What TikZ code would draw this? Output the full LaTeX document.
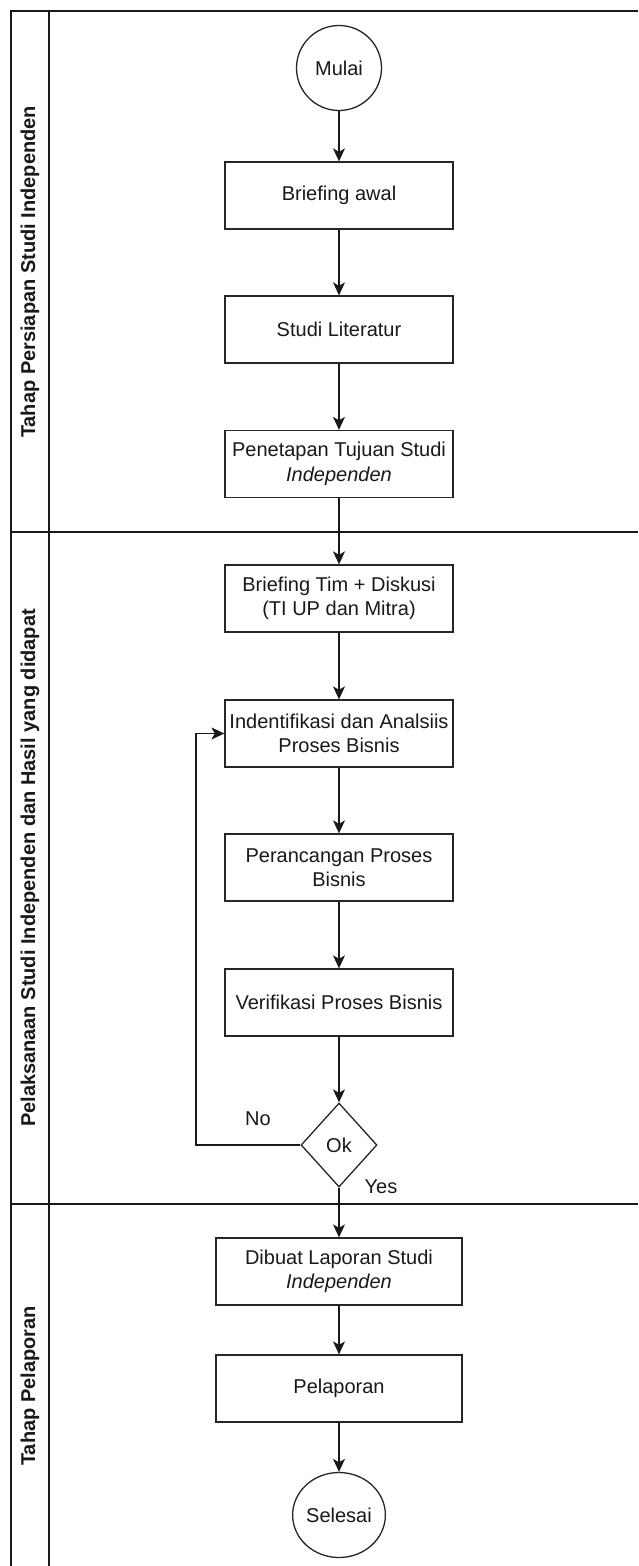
\documentclass[tikz,border=0pt]{standalone}
\usepackage{fontspec}
\setmainfont{Liberation Sans}
\usetikzlibrary{arrows.meta,shapes.geometric}

\begin{document}
\begin{tikzpicture}[x=1pt,y=-1pt,
  every node/.style={font=\fontsize{20}{24.5}\selectfont, text=black!90},
  lane/.style={line width=1.4pt, draw=black!90},
  stepbox/.style={draw=black!85, line width=1.3pt, rectangle, minimum width=228, minimum height=67, inner sep=0pt, align=center},
  widebox/.style={stepbox, minimum width=246},
  terminal/.style={draw=black!85, line width=1.3pt, ellipse, minimum width=85, minimum height=85, inner sep=0pt},
  decision/.style={draw=black!85, line width=1.3pt, diamond, minimum width=76, minimum height=84, inner sep=0pt, aspect=0.9},
  lanelabel/.style={rotate=90, font=\fontsize{20}{24}\selectfont\bfseries},
  arr/.style={line width=1.3pt, draw=black!90, -{Stealth[length=13pt,width=12pt,inset=3.5pt]}}
]
\useasboundingbox (0,0) rectangle (638,1566);
\fill[white] (0,0) rectangle (638,1566);

% swimlane frame
\draw[lane] (638,11) -- (11,11) -- (11,1566);
\draw[lane] (49,11) -- (49,1566);
\draw[lane] (11,532) -- (638,532);
\draw[lane] (11,1204) -- (638,1204);

% lane titles
\node[lanelabel] (lane1) at (30,272) {Tahap Persiapan Studi Independen};
\node[lanelabel] (lane2) at (30,868) {Pelaksanaan Studi Independen dan Hasil yang didapat};
\node[lanelabel] (lane3) at (30,1386) {Tahap Pelaporan};

% steps
\node[terminal] (mulai) at (339,68) {Mulai};
\node[stepbox] (b1) at (339,195.5) {Briefing awal};
\node[stepbox] (b2) at (339,329.5) {Studi Literatur};
\node[stepbox] (b3) at (339,464) {Penetapan Tujuan Studi\\\textit{Independen}};
\node[stepbox] (b4) at (339,598.5) {Briefing Tim + Diskusi\\(TI UP dan Mitra)};
\node[stepbox] (b5) at (339,733.5) {Indentifikasi dan Analsiis\\Proses Bisnis};
\node[stepbox] (b6) at (339,867.5) {Perancangan Proses\\Bisnis};
\node[stepbox] (b7) at (339,1002.5) {Verifikasi Proses Bisnis};
\node[decision] (ok) at (339,1145) {Ok};
\node[widebox] (b8) at (339,1271.5) {Dibuat Laporan Studi\\\textit{Independen}};
\node[widebox] (b9) at (339,1388.5) {Pelaporan};
\node[terminal] (selesai) at (339,1515) {Selesai};

\node (no) at (258,1119) {No};
\node (yes) at (381,1187) {Yes};

% flow
\draw[arr] (mulai) -- (b1);
\draw[arr] (b1) -- (b2);
\draw[arr] (b2) -- (b3);
\draw[arr] (b3) -- (b4);
\draw[arr] (b4) -- (b5);
\draw[arr] (b5) -- (b6);
\draw[arr] (b6) -- (b7);
\draw[arr] (b7) -- (ok);
\draw[arr] (ok) -- (b8);
\draw[arr] (b8) -- (b9);
\draw[arr] (b9) -- (selesai);

% loop back when the check fails
\coordinate (loopx) at (196,0);
\draw[arr] (ok.west) -- (ok.west -| loopx) |- (b5.west);
\end{tikzpicture}
\end{document}
